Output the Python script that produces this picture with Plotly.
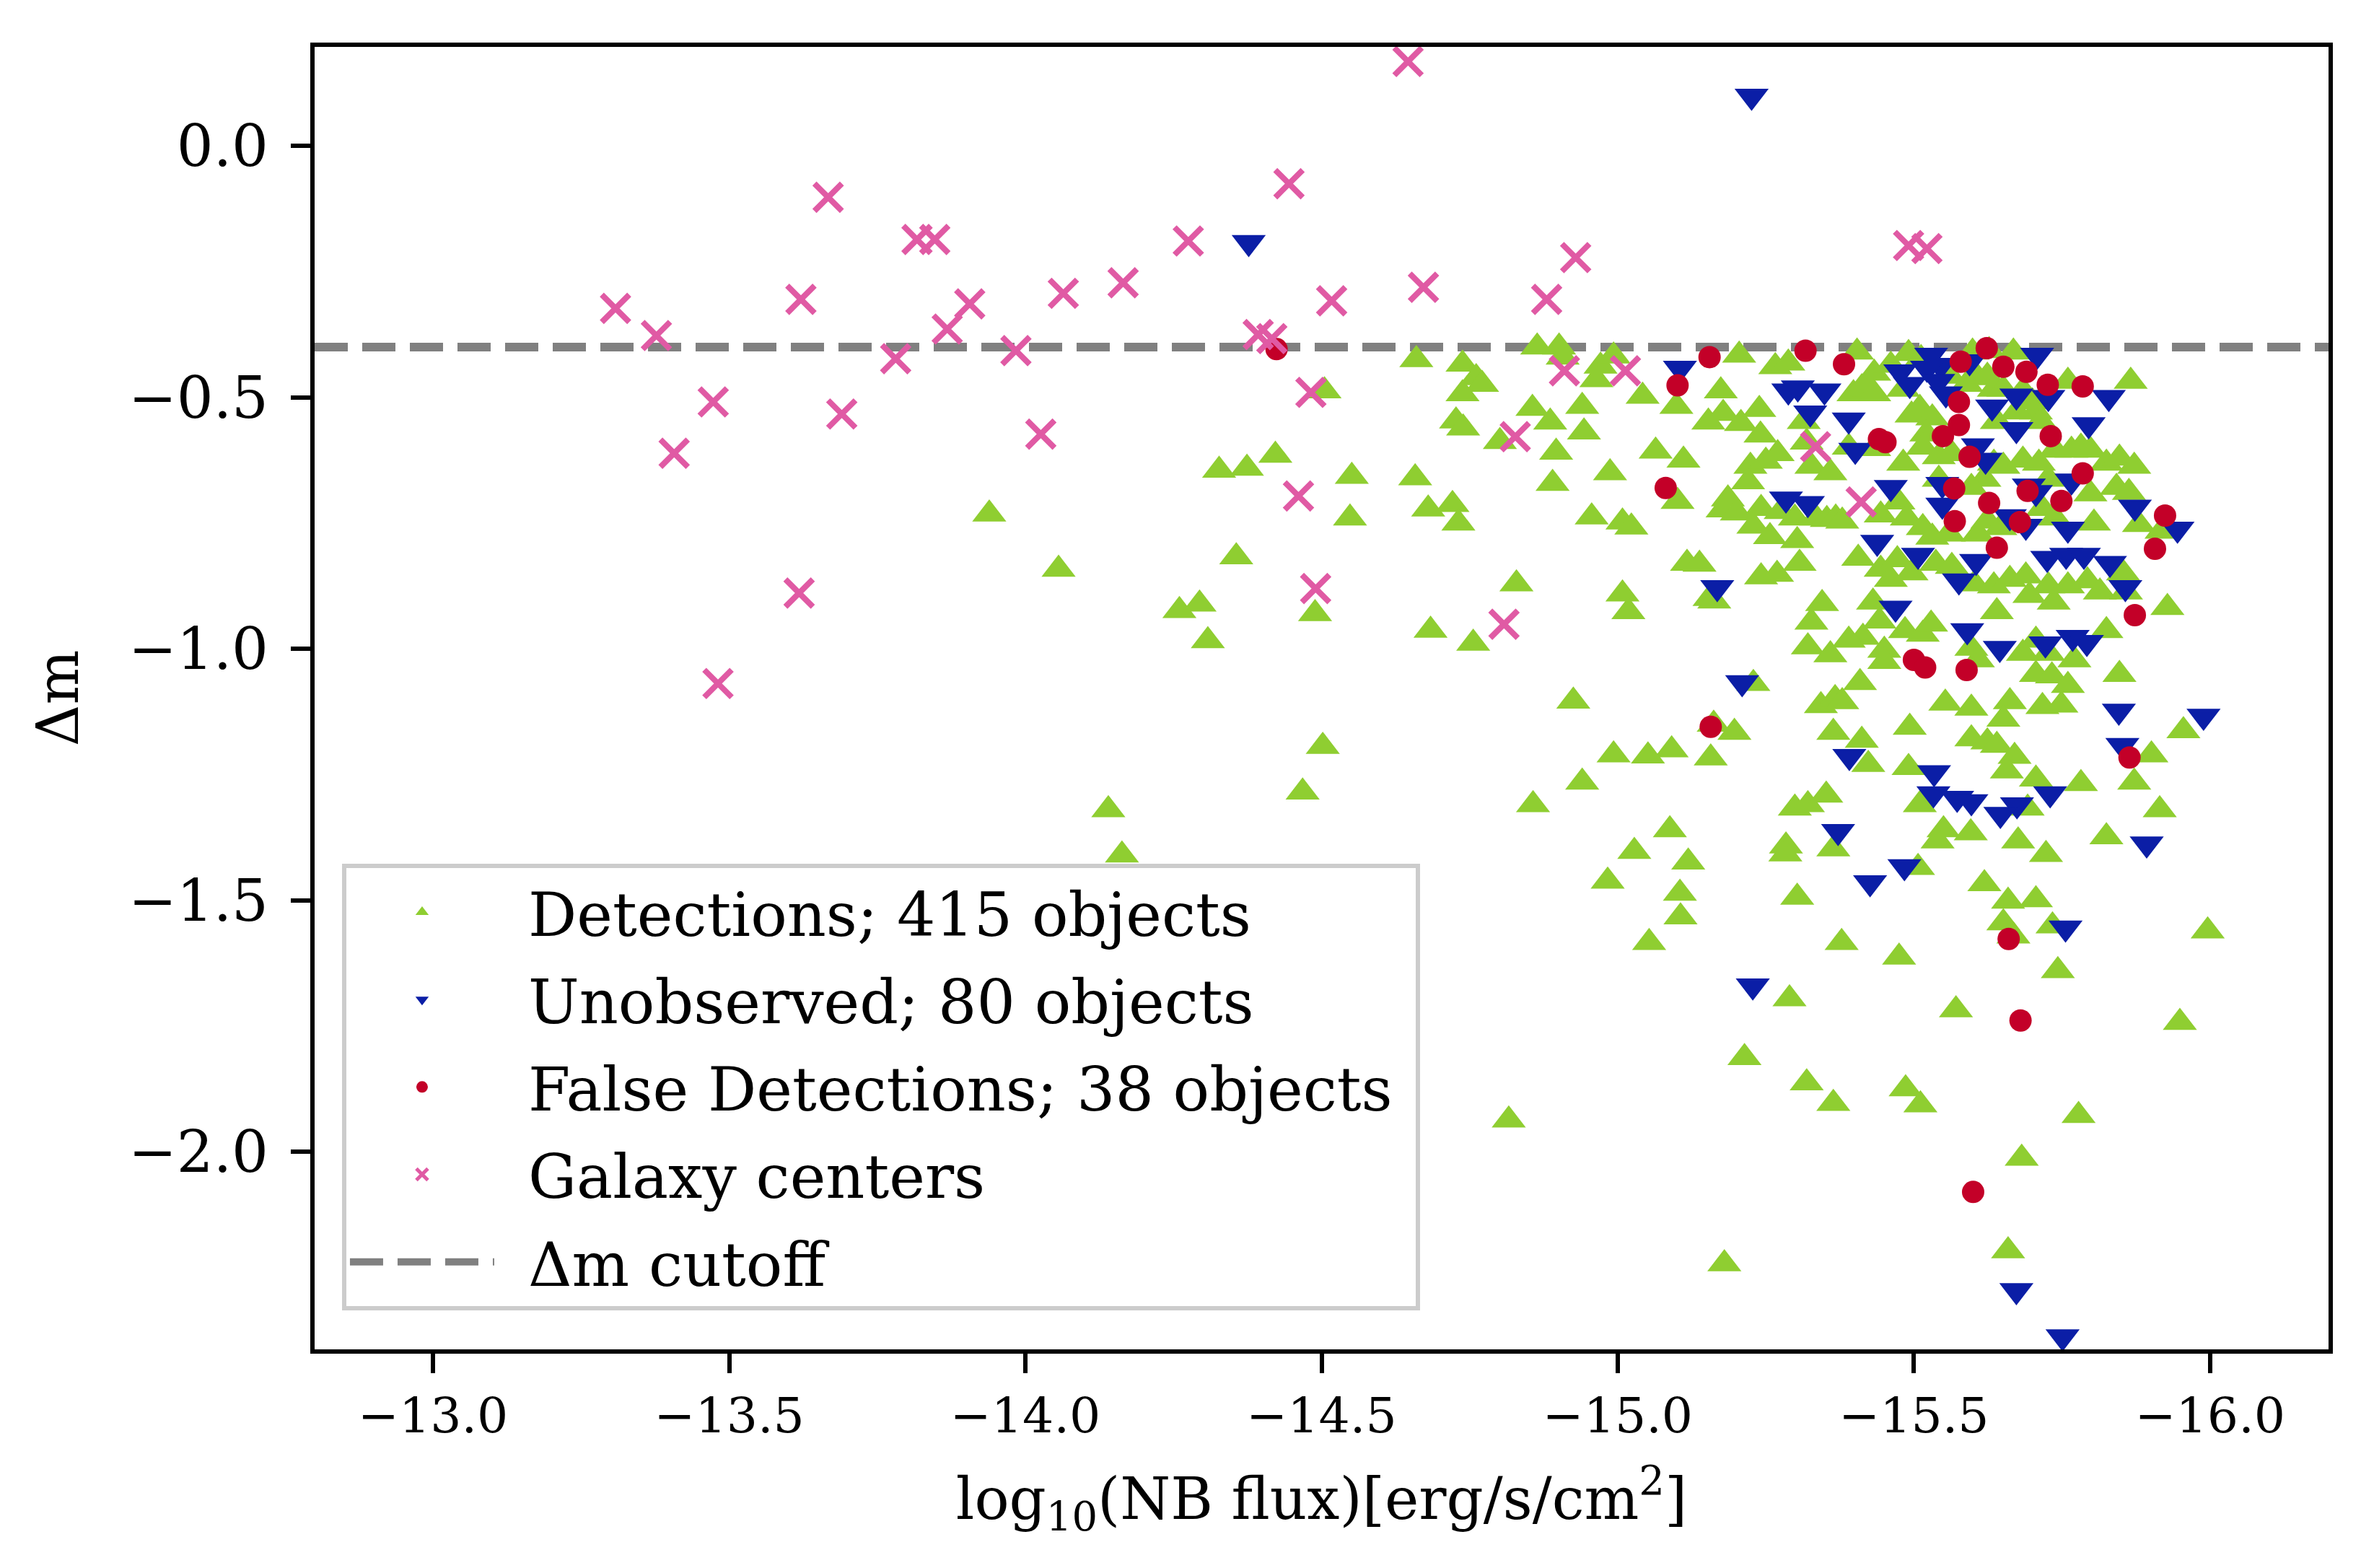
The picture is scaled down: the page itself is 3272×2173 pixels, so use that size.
# %%
import plotly.graph_objects as go

# %%
# values
det_x = [
    -14.660, -14.738, -14.761, -14.771, -14.738, -14.727, -14.739, -14.801, -14.856, -14.864,
    -14.901, -14.907, -14.971, -14.993, -14.964, -14.940, -14.886, -14.943, -14.896, -14.890,
    -15.042, -14.987, -15.064, -15.111, -15.099, -15.174, -15.205, -15.153, -15.178, -15.208,
    -15.239, -15.241, -15.266, -15.288, -15.314, -15.319, -15.224, -15.250, -15.270, -15.327,
    -15.220, -15.186, -15.177, -15.201, -15.242, -15.229, -15.257, -15.275, -15.303, -15.307,
    -15.299, -15.335, -15.353, -15.368, -15.359, -15.101, -14.956, -15.008, -15.023, -15.117,
    -15.138, -15.155, -15.163, -15.242, -15.269, -15.345, -15.327, -15.321, -15.359, -15.229,
    -15.343, -15.367, -15.364, -15.197, -15.162, -15.157, -15.091, -15.051, -14.993, -14.940,
    -14.925, -14.857, -15.299, -15.321, -15.352, -14.829, -15.008, -15.018, -14.684, -14.756,
    -14.551, -14.658, -14.680, -14.721, -14.731, -14.548,
    -15.404, -15.433, -15.461, -15.491, -15.512, -15.599, -15.627, -15.668, -15.398, -15.425,
    -15.412, -15.433, -15.482, -15.496, -15.510, -15.531, -15.521, -15.561, -15.589, -15.608,
    -15.624, -15.635, -15.651, -15.684, -15.700, -15.706, -15.640, -15.673, -15.714, -15.760,
    -15.866, -15.738, -15.766, -15.782, -15.798, -15.825, -15.847, -15.872, -15.390, -15.433,
    -15.482, -15.515, -15.542, -15.564, -15.635, -15.651, -15.684, -15.711, -15.727, -15.619,
    -15.597, -15.542, -15.474, -15.488, -15.444, -15.379, -15.515, -15.531, -15.559, -15.608,
    -15.624, -15.646, -15.717, -15.738, -15.798, -15.804, -15.842, -15.863, -15.880, -15.918,
    -15.406, -15.444, -15.472, -15.461, -15.496, -15.537, -15.564, -15.602, -15.635, -15.662,
    -15.689, -15.727, -15.695, -15.736, -15.760, -15.793, -15.814, -15.853, -15.858, -15.928,
    -15.431, -15.442, -15.414, -15.450, -15.485, -15.515, -15.529, -15.390, -15.450, -15.597,
    -15.608, -15.640, -15.684, -15.706, -15.727, -15.706, -15.733, -15.760, -15.771, -15.825,
    -15.847, -15.409, -15.379, -15.553, -15.597, -15.662, -15.651, -15.717, -15.749, -15.493,
    -15.412, -15.423, -15.491, -15.597, -15.624, -15.640, -15.670, -15.657, -15.706, -15.782,
    -15.872, -15.901, -15.955, -15.510, -15.692, -15.915,
    -15.088, -15.028, -15.119, -14.983, -15.105, -15.106, -15.053, -15.284, -15.283, -15.303,
    -15.364, -15.378, -15.290, -15.214, -15.319, -15.364, -14.816, -15.180,
    -15.550, -15.540, -15.596, -15.676, -15.723, -15.825, -15.507, -15.619, -15.659, -15.706,
    -15.651, -15.668, -15.734, -15.996, -15.475, -15.743, -15.571, -15.949, -15.486, -15.511,
    -15.778, -15.682, -15.659,
    -14.327, -14.374, -14.422, -14.505, -14.356, -14.260, -14.294, -14.308, -14.489, -14.502,
    -14.468, -14.140, -13.939, -14.056, -14.163,
]
det_y = [
    -0.425, -0.434, -0.461, -0.474, -0.493, -0.547, -0.561, -0.588, -0.522, -0.400,
    -0.400, -0.420, -0.438, -0.418, -0.465, -0.518, -0.549, -0.569, -0.609, -0.671,
    -0.498, -0.650, -0.607, -0.625, -0.518, -0.487, -0.416, -0.549, -0.532, -0.552,
    -0.524, -0.575, -0.439, -0.432, -0.548, -0.589, -0.637, -0.627, -0.612, -0.637,
    -0.668, -0.702, -0.724, -0.730, -0.721, -0.756, -0.777, -0.727, -0.785, -0.830,
    -0.740, -0.740, -0.743, -0.740, -0.650, -0.707, -0.738, -0.748, -0.758, -0.830,
    -0.832, -0.900, -0.905, -0.857, -0.852, -0.910, -0.947, -0.996, -1.012, -1.069,
    -1.113, -1.099, -1.166, -1.166, -1.150, -1.217, -1.201, -1.213, -1.211, -1.265,
    -1.104, -1.310, -1.317, -1.310, -1.291, -0.871, -0.891, -0.926, -0.963, -0.989,
    -0.657, -0.660, -0.722, -0.713, -0.750, -0.740,
    -0.410, -0.452, -0.436, -0.413, -0.423, -0.410, -0.407, -0.410, -0.493, -0.484,
    -0.481, -0.493, -0.484, -0.535, -0.522, -0.541, -0.573, -0.458, -0.474, -0.461,
    -0.458, -0.484, -0.484, -0.487, -0.509, -0.529, -0.548, -0.529, -0.548, -0.468,
    -0.468, -0.605, -0.605, -0.599, -0.605, -0.631, -0.621, -0.637, -0.599, -0.602,
    -0.631, -0.599, -0.618, -0.612, -0.631, -0.637, -0.625, -0.631, -0.663, -0.663,
    -0.679, -0.663, -0.708, -0.740, -0.734, -0.746, -0.759, -0.778, -0.772, -0.772,
    -0.746, -0.759, -0.721, -0.740, -0.692, -0.750, -0.679, -0.689, -0.753, -0.766,
    -0.820, -0.842, -0.823, -0.862, -0.849, -0.830, -0.836, -0.871, -0.875, -0.862,
    -0.855, -0.875, -0.894, -0.907, -0.875, -0.865, -0.887, -0.849, -0.887, -0.918,
    -0.907, -0.945, -0.977, -1.003, -0.964, -0.971, -0.951, -0.983, -1.025, -0.999,
    -1.022, -0.926, -1.009, -0.983, -1.009, -1.051, -1.054, -1.073, -1.022, -0.964,
    -1.051, -1.067, -1.105, -1.108, -1.118, -1.105, -1.140, -1.115, -1.112, -1.156,
    -1.182, -1.230, -1.236, -1.179, -1.185, -1.192, -1.214, -1.243, -1.259, -1.268,
    -1.265, -1.211, -1.163, -1.310, -1.317, -1.320,
    -1.360, -1.403, -1.424, -1.462, -1.486, -1.533, -1.584, -1.392, -1.408, -1.494,
    -1.398, -1.584, -1.696, -1.813, -1.863, -1.904, -1.937, -2.223,
    -1.360, -1.382, -1.366, -1.382, -1.409, -1.374, -1.435, -1.467, -1.502, -1.499,
    -1.545, -1.571, -1.551, -1.561, -1.613, -1.640, -1.718, -1.743, -1.875, -1.907,
    -1.928, -2.013, -2.197,
    -0.645, -0.641, -0.615, -0.487, -0.817, -0.924, -0.911, -0.984, -0.930, -1.194,
    -1.285, -1.320, -0.732, -0.842, -1.410,
]

unobs_x = [
    -15.105, -15.288, -15.304, -15.349, -15.325, -15.284, -15.321, -15.168, -15.210,
    -15.529, -15.545, -15.477, -15.493, -15.522, -15.541, -15.554, -15.594, -15.708, -15.632,
    -15.673, -15.727, -15.829, -15.795, -15.390, -15.401, -15.673, -15.608, -15.621, -15.461,
    -15.548, -15.548, -15.694, -15.706, -15.662, -15.689, -15.766, -15.760, -15.873, -15.945,
    -15.438, -15.507, -15.605, -15.576, -15.725, -15.757, -15.787, -15.831, -15.857, -15.469,
    -15.590, -15.645, -15.722, -15.768, -15.792, -15.846, -15.989, -15.852, -15.391, -15.534,
    -15.533, -15.573, -15.597, -15.730, -15.674, -15.646,
    -14.377, -15.226, -15.228, -15.372, -15.751, -15.484, -15.426, -15.893, -15.756, -15.673,
]
unobs_y = [
    -0.442, -0.487, -0.481, -0.487, -0.531, -0.702, -0.711, -0.878, -1.067,
    -0.416, -0.436, -0.449, -0.474, -0.442, -0.468, -0.493, -0.429, -0.416, -0.519,
    -0.497, -0.500, -0.500, -0.554, -0.545, -0.605, -0.564, -0.596, -0.625, -0.679,
    -0.673, -0.714, -0.676, -0.689, -0.737, -0.756, -0.666, -0.762, -0.718, -0.762,
    -0.788, -0.814, -0.826, -0.865, -0.820, -0.814, -0.814, -0.830, -0.878, -0.919,
    -0.964, -0.999, -0.990, -0.977, -0.987, -1.124, -1.134, -1.192, -1.214, -1.246,
    -1.288, -1.297, -1.304, -1.288, -1.310, -1.329,
    -0.192, 0.099, -1.670, -1.363, -2.368, -1.433, -1.465, -1.388, -1.555, -2.276,
]

false_x = [
    -15.155, -15.101, -15.317, -15.081, -15.157,
    -15.382, -15.623, -15.579, -15.651, -15.690, -15.726, -15.785, -15.576, -15.576, -15.549,
    -15.441, -15.452, -15.594, -15.731, -15.785, -15.568, -15.692, -15.627, -15.749, -15.569,
    -15.679, -15.924, -15.640, -15.907, -15.873, -15.500, -15.519, -15.589, -15.864,
    -15.660, -15.680, -15.600, -14.424,
]
false_y = [
    -0.420, -0.476, -0.407, -0.680, -1.155,
    -0.434, -0.402, -0.429, -0.439, -0.449, -0.475, -0.478, -0.509, -0.555, -0.577,
    -0.583, -0.589, -0.618, -0.577, -0.651, -0.681, -0.686, -0.710, -0.706, -0.746,
    -0.748, -0.735, -0.799, -0.801, -0.933, -1.022, -1.037, -1.042, -1.216,
    -1.577, -1.739, -2.080, -0.404,
]

gal_x = [
    -14.646, -13.308, -13.377, -13.407, -13.473, -13.481, -13.621, -13.618, -13.667, -13.690,
    -13.781, -13.817, -13.847, -13.868, -13.906, -13.984, -14.026, -14.064, -14.165, -14.275,
    -14.393, -14.416, -14.445, -14.461, -14.482, -14.490, -14.517, -14.672, -14.808, -14.827,
    -14.880, -14.910, -14.929, -15.013, -15.334, -15.411, -15.491, -15.522,
]
gal_y = [
    0.168, -0.323, -0.377, -0.611, -0.509, -1.069, -0.305, -0.889, -0.102, -0.533,
    -0.423, -0.186, -0.186, -0.364, -0.314, -0.407, -0.573, -0.293, -0.272, -0.189,
    -0.375, -0.383, -0.075, -0.696, -0.490, -0.880, -0.308, -0.281, -0.951, -0.578,
    -0.305, -0.447, -0.222, -0.447, -0.598, -0.708, -0.198, -0.204,
]

cutoff = -0.4
x_lim = [-12.8, -16.2]
y_lim = [-2.393, 0.197]

x_ticks = [-13.0, -13.5, -14.0, -14.5, -15.0, -15.5, -16.0]
x_ticktext = ["\u221213.0", "\u221213.5", "\u221214.0", "\u221214.5", "\u221215.0", "\u221215.5", "\u221216.0"]
y_ticks = [0.0, -0.5, -1.0, -1.5, -2.0]
y_ticktext = ["0.0", "\u22120.5", "\u22121.0", "\u22121.5", "\u22122.0"]

# en space keeps the legend text clear of the symbols
pad = "\u2002"

# %%
fig = go.Figure()

fig.add_trace(go.Scatter(
    x=x_lim, y=[cutoff, cutoff], mode="lines",
    name=pad + "\u0394m cutoff", legendrank=5, legendgroup="e",
    line=dict(color="#808080", width=12, dash="46px,20px"),
))
fig.add_trace(go.Scatter(
    x=det_x, y=det_y, mode="markers",
    name=pad + "Detections; 415 objects", legendrank=1, legendgroup="a",
    marker=dict(symbol="triangle-up", size=41, color="#8fce31"),
))
fig.add_trace(go.Scatter(
    x=unobs_x, y=unobs_y, mode="markers",
    name=pad + "Unobserved; 80 objects", legendrank=2, legendgroup="b",
    marker=dict(symbol="triangle-down", size=41, color="#0b1ea6"),
))
fig.add_trace(go.Scatter(
    x=false_x, y=false_y, mode="markers",
    name=pad + "False Detections; 38 objects\u00a0", legendrank=3, legendgroup="c",
    marker=dict(symbol="circle", size=31, color="#c30028"),
))
fig.add_trace(go.Scatter(
    x=gal_x, y=gal_y, mode="markers",
    name=pad + "Galaxy centers", legendrank=4, legendgroup="d",
    marker=dict(symbol="x-thin", size=38, color="#e05aa4",
                line=dict(width=8, color="#e05aa4")),
))

fig.update_layout(
    width=3272, height=2173,
    margin=dict(l=428, r=53, t=57, b=311),
    plot_bgcolor="white", paper_bgcolor="white",
    font=dict(family="DejaVu Serif", color="black", size=80),
    legend=dict(
        x=0.0136, y=0.03, xanchor="left", yanchor="bottom",
        bgcolor="rgba(255,255,255,0.8)", bordercolor="#cccccc", borderwidth=6,
        font=dict(size=84), traceorder="grouped", tracegroupgap=9,
        itemwidth=200,
    ),
)
fig.update_xaxes(
    range=x_lim, tickvals=x_ticks, ticktext=x_ticktext,
    ticks="outside", ticklen=27, tickwidth=6, tickcolor="black",
    showline=True, linecolor="black", linewidth=6, mirror=True,
    showgrid=False, zeroline=False, tickfont=dict(size=68),
    title=dict(text="log<sub>10</sub>(NB flux)[erg/s/cm<sup>2</sup>]", font=dict(size=80), standoff=51),
    automargin=False,
)
fig.update_yaxes(
    range=y_lim, tickvals=y_ticks, ticktext=y_ticktext,
    ticks="outside", ticklen=27, tickwidth=6, tickcolor="black",
    showline=True, linecolor="black", linewidth=6, mirror=True,
    showgrid=False, zeroline=False, tickfont=dict(size=80),
    ticklabelstandoff=15,
    title=dict(text="\u0394m", font=dict(size=80), standoff=45),
    automargin=False,
)

fig.write_html("out.html")
